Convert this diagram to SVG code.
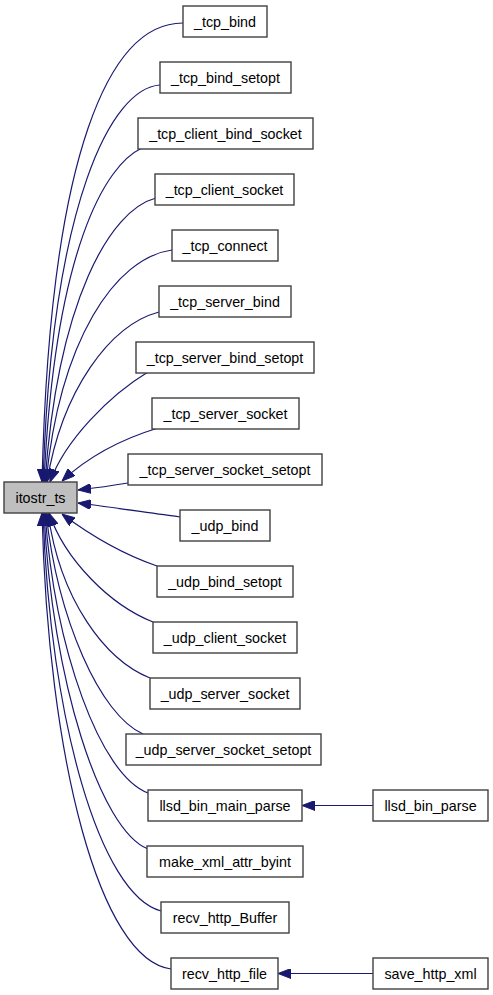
<svg xmlns="http://www.w3.org/2000/svg" width="493" height="995" viewBox="0 0 493 995">
<style>
.n rect{fill:#fff;stroke:#404040;stroke-width:1.4}
.n.h rect{fill:#bfbfbf}
.n text{font-family:"Liberation Sans",Arial,sans-serif;font-size:14.3px;fill:#000;text-anchor:middle}
.e path{fill:none;stroke:#191970;stroke-width:1.2;marker-end:url(#a)}
</style>
<defs>
<marker id="a" viewBox="0 0 13 10" refX="13" refY="5" markerWidth="13" markerHeight="10" markerUnits="userSpaceOnUse" orient="auto">
<path d="M0,0 L13,5 L0,10 z" fill="#191970" stroke="#191970" stroke-width="1"/>
</marker>
</defs>
<g class="e" id="edges">
<path d="M183,23 C110,23 50,150 42,482"/>
<path d="M160,85 C112,88 52,200 43,482"/>
<path d="M142,148 C105,165 55,250 44,482"/>
<path d="M156,198 C110,210 58,300 45,482"/>
<path d="M172,250 C115,258 60,340 46,482"/>
<path d="M159,312 C110,325 62,390 47,482"/>
<path d="M148,372 C110,395 65,440 50,482"/>
<path d="M158,428 C125,438 90,455 62,481"/>
<path d="M128,483 C110,486 95,488 78,490"/>
<path d="M180,517 C150,513 110,507 78,503"/>
<path d="M157,566 C125,555 90,535 62,514"/>
<path d="M153,622 C110,605 65,560 49,513"/>
<path d="M150,678 C105,660 60,600 48,513"/>
<path d="M143,734 C100,715 58,620 46,513"/>
<path d="M148,793 C100,775 55,650 45,513"/>
<path d="M148,849 C100,830 52,680 44,513"/>
<path d="M161,911 C100,895 50,720 43,513"/>
<path d="M171,969 C100,960 48,760 42,513"/>
<path d="M373,805.5 L302,805.5"/>
<path d="M373,973.5 L278,973.5"/>
</g>
<g class="n" id="n_tcp_bind"><rect x="183" y="6" width="84" height="31"/><text x="225" y="26.5">_tcp_bind</text></g>
<g class="n" id="n_tcp_bind_setopt"><rect x="160" y="62" width="131" height="31"/><text x="225.5" y="82.5">_tcp_bind_setopt</text></g>
<g class="n" id="n_tcp_client_bind_socket"><rect x="138" y="118" width="175" height="31"/><text x="225.5" y="138.5">_tcp_client_bind_socket</text></g>
<g class="n" id="n_tcp_client_socket"><rect x="155" y="174" width="139" height="31"/><text x="224.5" y="194.5">_tcp_client_socket</text></g>
<g class="n" id="n_tcp_connect"><rect x="172" y="230" width="106" height="31"/><text x="225" y="250.5">_tcp_connect</text></g>
<g class="n" id="n_tcp_server_bind"><rect x="159" y="286" width="132" height="31"/><text x="225" y="306.5">_tcp_server_bind</text></g>
<g class="n" id="n_tcp_server_bind_setopt"><rect x="136" y="342" width="178" height="31"/><text x="225" y="362.5">_tcp_server_bind_setopt</text></g>
<g class="n" id="n_tcp_server_socket"><rect x="152" y="398" width="147" height="31"/><text x="225.5" y="418.5">_tcp_server_socket</text></g>
<g class="n" id="n_tcp_server_socket_setopt"><rect x="128" y="454" width="194" height="31"/><text x="225" y="474.5">_tcp_server_socket_setopt</text></g>
<g class="n h" id="n_itostr_ts"><rect x="4" y="482" width="73" height="31"/><text x="40.5" y="502.5">itostr_ts</text></g>
<g class="n" id="n_udp_bind"><rect x="180" y="510" width="90" height="31"/><text x="225" y="530.5">_udp_bind</text></g>
<g class="n" id="n_udp_bind_setopt"><rect x="157" y="566" width="136" height="31"/><text x="225" y="586.5">_udp_bind_setopt</text></g>
<g class="n" id="n_udp_client_socket"><rect x="153" y="622" width="144" height="31"/><text x="225" y="642.5">_udp_client_socket</text></g>
<g class="n" id="n_udp_server_socket"><rect x="150" y="678" width="150" height="31"/><text x="225" y="698.5">_udp_server_socket</text></g>
<g class="n" id="n_udp_server_socket_setopt"><rect x="126" y="734" width="195" height="31"/><text x="223.5" y="754.5">_udp_server_socket_setopt</text></g>
<g class="n" id="n_llsd_bin_main_parse"><rect x="148" y="790" width="154" height="31"/><text x="225" y="810.5">llsd_bin_main_parse</text></g>
<g class="n" id="n_llsd_bin_parse"><rect x="373" y="790" width="115" height="31"/><text x="430.5" y="810.5">llsd_bin_parse</text></g>
<g class="n" id="n_make_xml_attr_byint"><rect x="147" y="846" width="156" height="31"/><text x="225" y="866.5">make_xml_attr_byint</text></g>
<g class="n" id="n_recv_http_Buffer"><rect x="161" y="902" width="128" height="31"/><text x="225" y="922.5">recv_http_Buffer</text></g>
<g class="n" id="n_recv_http_file"><rect x="171" y="958" width="107" height="31"/><text x="224.5" y="978.5">recv_http_file</text></g>
<g class="n" id="n_save_http_xml"><rect x="373" y="958" width="115" height="31"/><text x="430.5" y="978.5">save_http_xml</text></g>
</svg>
